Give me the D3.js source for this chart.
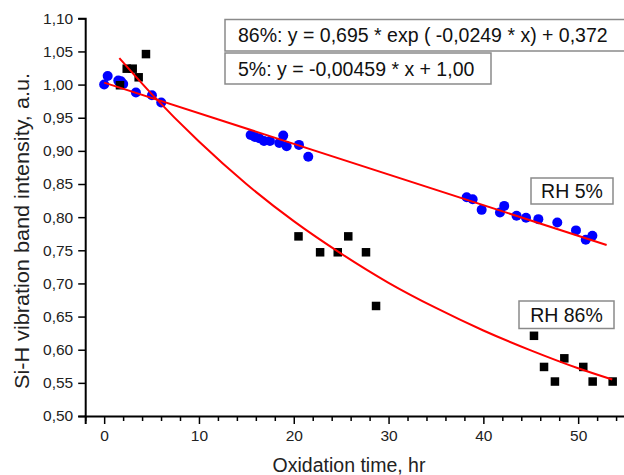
<!DOCTYPE html>
<html>
<head>
<meta charset="utf-8">
<script src="https://cdn.jsdelivr.net/npm/d3@7/dist/d3.min.js"></script>
<style>
  html, body { margin: 0; padding: 0; background: #fff; }
  svg { display: block; font-family: "Liberation Sans", Arial, sans-serif; }
</style>
</head>
<body>
<svg id="chart" width="624" height="475"></svg>
<script>
// ---- data ----
const rh5Time = [0.0, 0.37, 1.49, 1.77, 2.01, 3.35, 5.04, 6.02,
  15.45, 15.9, 16.36, 16.86, 17.49, 18.47, 18.89, 19.25, 20.55, 21.53,
  38.24, 38.87, 39.82, 41.75, 42.2, 43.5, 44.5, 45.8, 47.8, 49.77, 50.8, 51.5];
const rh5Value = [1.000, 1.013, 1.006, 1.005, 1.001, 0.988, 0.984, 0.973,
  0.924, 0.921, 0.919, 0.915, 0.915, 0.912, 0.923, 0.907, 0.909, 0.891,
  0.830, 0.827, 0.811, 0.807, 0.817, 0.802, 0.799, 0.797, 0.792, 0.780, 0.766, 0.772];

const rh86Time = [1.67, 2.38, 3.01, 3.64, 4.41,
  20.5, 22.78, 24.64, 25.75, 27.62, 28.68,
  45.34, 46.4, 47.55, 48.54, 50.54, 51.53, 53.64];
const rh86Value = [0.999, 1.024, 1.024, 1.011, 1.046,
  0.771, 0.747, 0.747, 0.771, 0.747, 0.666,
  0.621, 0.574, 0.552, 0.587, 0.574, 0.552, 0.552];

// fitted curves as drawn in the reference
const fit5Time = [0, 53];
const fit5Value = [1.003, 0.758];
const fit86Time = [1.6, 5, 10, 15, 20, 25, 30, 35, 40, 45, 50, 53.6];
const fit86Value = [1.040, 0.986, 0.914, 0.850, 0.794, 0.745, 0.701, 0.663, 0.629, 0.599, 0.572, 0.555];

const xMajorTicks = [0, 10, 20, 30, 40, 50];
const xMinorTicks = [-2, 2, 4, 6, 8, 12, 14, 16, 18, 22, 24, 26, 28, 32, 34, 36, 38, 42, 44, 46, 48, 52, 54];
const yTicks = [0.50, 0.55, 0.60, 0.65, 0.70, 0.75, 0.80, 0.85, 0.90, 0.95, 1.00, 1.05, 1.10];

const xTitle = "Oxidation time, hr";
const yTitle = "Si-H vibration band intensity, a.u.";
const eq86 = "86%: y = 0,695 * exp ( -0,0249 * x) + 0,372";
const eq5 = "5%: y = -0,00459 * x + 1,00";
const label5 = "RH 5%";
const label86 = "RH 86%";

// ---- drawing ----
const svg = d3.select("#chart");
const x = d3.scaleLinear().domain([-2, 56]).range([85.2, 85.2 + 58 * 9.48]);
const y = d3.scaleLinear().domain([0.5, 1.1]).range([416, 18.3]);
const fmt = v => d3.format(".2f")(v).replace(".", ",");

// y axis
const yAxis = d3.axisLeft(y).tickValues(yTicks).tickFormat(fmt).tickSizeOuter(0).tickSize(7).tickPadding(5);
const gy = svg.append("g").attr("transform", `translate(${x(-2)},0)`).call(yAxis);
gy.select(".domain").attr("stroke", "#000").attr("stroke-width", 2);
gy.selectAll(".tick line").attr("stroke", "#000").attr("stroke-width", 1.5);
gy.selectAll(".tick text").attr("font-size", 15.5).attr("fill", "#222").attr("font-family", "Liberation Sans, Arial, sans-serif");

// x axis
const xAxis = d3.axisBottom(x).tickValues(xMajorTicks).tickFormat(d3.format("d")).tickSizeOuter(0).tickSize(8).tickPadding(6);
const gx = svg.append("g").attr("transform", `translate(0,${y(0.5)})`).call(xAxis);
gx.select(".domain").attr("stroke", "#000").attr("stroke-width", 2);
gx.selectAll(".tick line").attr("stroke", "#000").attr("stroke-width", 1.5);
gx.selectAll(".tick text").attr("font-size", 15.5).attr("fill", "#222").attr("font-family", "Liberation Sans, Arial, sans-serif");
const xAxisMinor = d3.axisBottom(x).tickValues(xMinorTicks).tickFormat("").tickSizeOuter(0).tickSize(5);
const gxm = svg.append("g").attr("transform", `translate(0,${y(0.5)})`).call(xAxisMinor);
gxm.select(".domain").remove();
gxm.selectAll(".tick line").attr("stroke", "#000").attr("stroke-width", 1.5);

// axis titles
svg.append("text").attr("x", 349).attr("y", 472)
  .attr("text-anchor", "middle").attr("font-size", 19.5).attr("fill", "#222").text(xTitle);
svg.append("text").attr("transform", "translate(29,231) rotate(-90)")
  .attr("text-anchor", "middle").attr("font-size", 19.5).attr("fill", "#222")
  .attr("textLength", 316).attr("lengthAdjust", "spacingAndGlyphs").text(yTitle);

// markers
const rh5 = rh5Time.map((t, i) => ({t, v: rh5Value[i]}));
const rh86 = rh86Time.map((t, i) => ({t, v: rh86Value[i]}));
svg.append("g").selectAll("circle").data(rh5).join("circle")
  .attr("cx", d => x(d.t)).attr("cy", d => y(d.v)).attr("r", 5).attr("fill", "#0000ff");
const sq = 8.5;
svg.append("g").selectAll("rect").data(rh86).join("rect")
  .attr("x", d => x(d.t) - sq / 2).attr("y", d => y(d.v) - sq / 2)
  .attr("width", sq).attr("height", sq).attr("fill", "#000");

// fit lines
const line = d3.line().x(d => x(d.t)).y(d => y(d.v));
const curve = d3.line().x(d => x(d.t)).y(d => y(d.v)).curve(d3.curveMonotoneX);
svg.append("path").datum(fit5Time.map((t, i) => ({t, v: fit5Value[i]})))
  .attr("d", line).attr("fill", "none").attr("stroke", "#ff0000").attr("stroke-width", 2);
svg.append("path").datum(fit86Time.map((t, i) => ({t, v: fit86Value[i]})))
  .attr("d", curve).attr("fill", "none").attr("stroke", "#ff0000").attr("stroke-width", 2);

// text boxes
function box(x0, y0, w, h, txt, anchor, tx) {
  svg.append("rect").attr("x", x0).attr("y", y0).attr("width", w).attr("height", h)
    .attr("fill", "#fff").attr("stroke", "#8a8a8a").attr("stroke-width", 1.5);
  svg.append("text").attr("x", tx).attr("y", y0 + h / 2 + 7)
    .attr("text-anchor", anchor).attr("font-size", 19.5).attr("fill", "#111").text(txt);
}
box(225, 19.5, 410, 31.5, eq86, "start", 238);
box(225, 53, 266, 31, eq5, "start", 238);
box(531, 178, 82, 26, label5, "middle", 572);
box(519, 301, 95, 27.5, label86, "middle", 566.5);
</script>
</body>
</html>
